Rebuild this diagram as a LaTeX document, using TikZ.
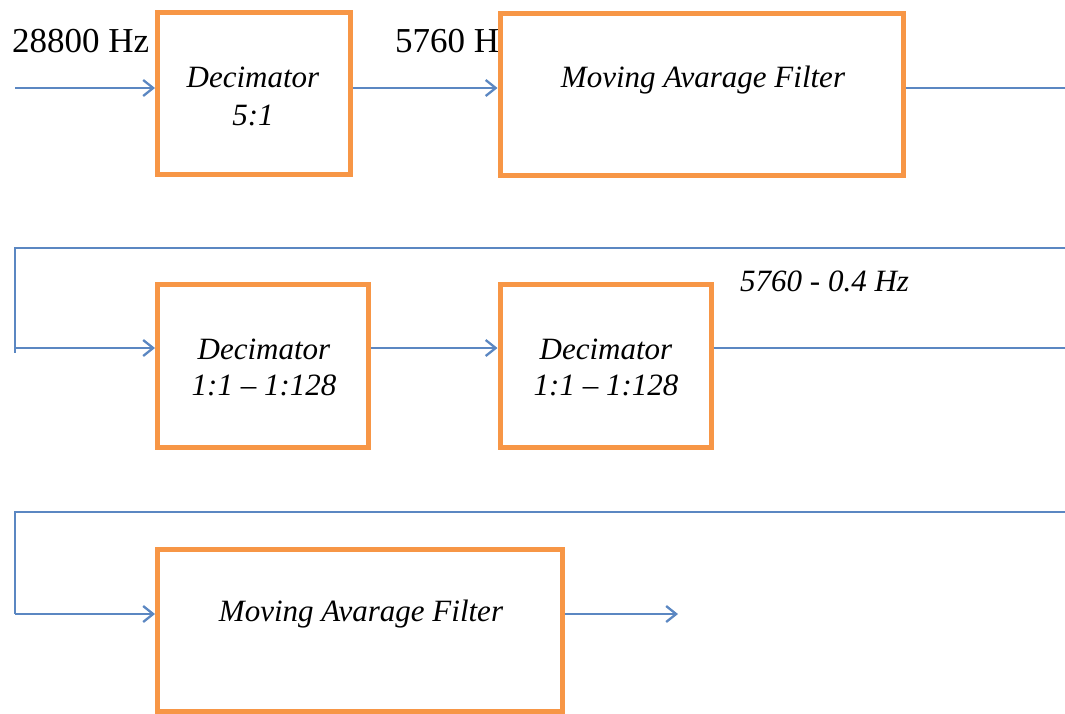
\documentclass[tikz,border=0pt]{standalone}
\usepackage{fontspec}
\setmainfont{Liberation Serif}[
  UprightFont={Liberation Serif},
  ItalicFont={Liberation Serif Italic},
  BoldFont={Liberation Serif Bold}]
\usetikzlibrary{arrows.meta}
\definecolor{boxorange}{HTML}{F79646}
\definecolor{wireblue}{HTML}{5B87C2}
\tikzset{
  block/.style={draw=boxorange, line width=5pt, fill=white, inner sep=0pt},
  wire/.style={draw=wireblue, line width=2.3pt},
  arr/.style={wire, -{Straight Barb[length=10pt,width=16pt,line width=2.3pt]}},
  rate/.style={font=\fontsize{35}{40}\selectfont, inner sep=0pt, anchor=base west},
  lbl/.style={font=\fontsize{31}{38}\selectfont\itshape, inner sep=0pt, anchor=base},
}
\begin{document}
\begin{tikzpicture}[x=1pt,y=-1pt]
  \useasboundingbox (0,0) rectangle (1065,713);

  % input rate labels (the second one runs behind the filter block)
  \node[rate] (r0) at (12,52) {28800 Hz};
  \node[rate] (r1) at (395,52) {5760 Hz};

  % blocks
  \node[block, minimum width=193pt, minimum height=162pt] (b1) at (254,93.5) {};
  \node[block, minimum width=403pt, minimum height=162pt] (b2) at (701.5,94) {};
  \node[block, minimum width=211pt, minimum height=163pt] (b3) at (263,366) {};
  \node[block, minimum width=211pt, minimum height=163pt] (b4) at (605.5,366) {};
  \node[block, minimum width=405pt, minimum height=162pt] (b5) at (360,630) {};

  % block texts
  \node[lbl] (t1a) at (253,87) {Decimator};
  \node[lbl] (t1b) at (253,125) {5:1};
  \node[lbl] (t2) at (703,87) {Moving Avarage Filter};
  \node[lbl] (t3a) at (264,359) {Decimator};
  \node[lbl] (t3b) at (264,395) {1:1 -- 1:128};
  \node[lbl] (t4a) at (606,359) {Decimator};
  \node[lbl] (t4b) at (606,395) {1:1 -- 1:128};
  \node[lbl] (t5) at (361,621) {Moving Avarage Filter};
  \node[lbl, anchor=base west] (rt) at (740,291) {5760 - 0.4 Hz};

  % wiring end points
  \coordinate (in) at (15,88);
  \coordinate (o1) at (1065,88);
  \coordinate (w2r) at (1065,248);
  \coordinate (w2l) at (15,248);
  \coordinate (w2b) at (15,353);
  \coordinate (a2) at (15,348);
  \coordinate (o2) at (1065,348);
  \coordinate (w3r) at (1065,512);
  \coordinate (w3l) at (15,512);
  \coordinate (a3) at (15,614);
  \coordinate (out) at (678,614);

  % row 1
  \draw[arr] (in) -- (in -| b1.west);
  \draw[arr] (b1.east |- in) -- (b2.west |- in);
  \draw[wire] (b2.east |- in) -- (o1);

  % row 2
  \draw[wire] (w2r) -- (w2l) -- (w2b);
  \draw[arr] (a2) -- (a2 -| b3.west);
  \draw[arr] (b3.east |- a2) -- (b4.west |- a2);
  \draw[wire] (b4.east |- a2) -- (o2);

  % row 3
  \draw[wire] (w3r) -- (w3l) -- (a3);
  \draw[arr] (a3) -- (a3 -| b5.west);
  \draw[arr] (b5.east |- a3) -- (out);
\end{tikzpicture}
\end{document}
